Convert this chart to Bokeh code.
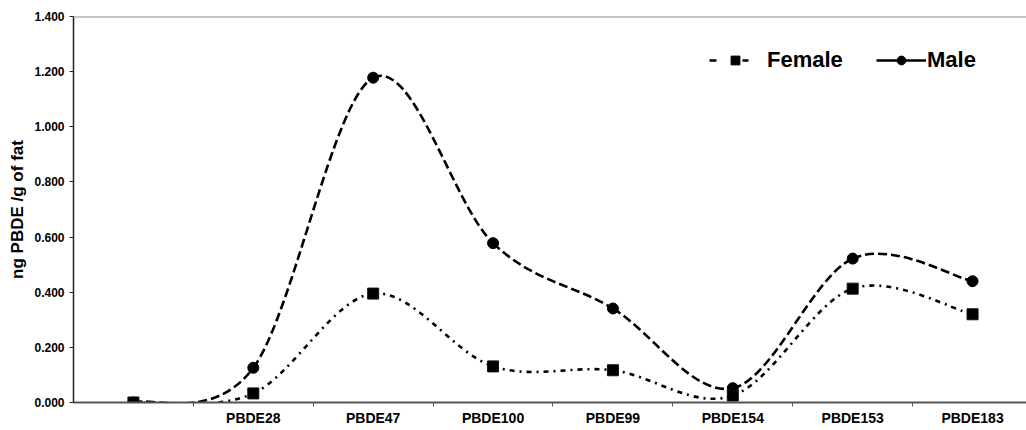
from bokeh.plotting import figure
from bokeh.models import (Range1d, FixedTicker, NumeralTickFormatter, Legend, LegendItem,
                          Span, Title, ColumnDataSource)
from bokeh.embed import file_html
from bokeh.resources import INLINE

categories = ["", "PBDE28", "PBDE47", "PBDE100", "PBDE99", "PBDE154", "PBDE153", "PBDE183"]
female = [0.000, 0.033, 0.395, 0.131, 0.117, 0.025, 0.413, 0.320]
male = [0.000, 0.126, 1.178, 0.578, 0.341, 0.052, 0.522, 0.440]

FONT = "Liberation Sans"
NAN = float("nan")

p = figure(width=1026, height=430, output_backend="svg", toolbar_location=None,
           x_range=Range1d(-0.5, 7.45), y_range=Range1d(0, 1.4),
           min_border_left=72, min_border_right=0, min_border_top=16, min_border_bottom=28)
p.outline_line_color = None
p.xgrid.visible = False
p.ygrid.visible = False
p.background_fill_color = "white"
p.border_fill_color = "white"

xs = list(range(len(categories)))


def smooth_segments(ys):
    n = len(ys)
    seg = dict(x0=[], y0=[], x1=[], y1=[], cx0=[], cy0=[], cx1=[], cy1=[])
    for i in range(n - 1):
        p0 = (xs[max(i - 1, 0)], ys[max(i - 1, 0)])
        p1 = (xs[i], ys[i])
        p2 = (xs[i + 1], ys[i + 1])
        p3 = (xs[min(i + 2, n - 1)], ys[min(i + 2, n - 1)])
        seg["x0"].append(p1[0]); seg["y0"].append(p1[1])
        seg["x1"].append(p2[0]); seg["y1"].append(p2[1])
        seg["cx0"].append(p1[0] + (p2[0] - p0[0]) / 6.0)
        seg["cy0"].append(p1[1] + (p2[1] - p0[1]) / 6.0)
        seg["cx1"].append(p2[0] - (p3[0] - p1[0]) / 6.0)
        seg["cy1"].append(p2[1] - (p3[1] - p1[1]) / 6.0)
    return ColumnDataSource(seg)


fsrc = smooth_segments(female)
msrc = smooth_segments(male)

p.bezier(x0="x0", y0="y0", x1="x1", y1="y1", cx0="cx0", cy0="cy0", cx1="cx1", cy1="cy1",
         source=fsrc, line_color="black", line_width=2.6, line_dash="5 5 2 5")
p.bezier(x0="x0", y0="y0", x1="x1", y1="y1", cx0="cx0", cy0="cy0", cx1="cx1", cy1="cy1",
         source=msrc, line_color="black", line_width=2.6, line_dash="9 4")

p.scatter(xs, male, marker="circle", size=11, fill_color="black", line_color="black")
p.scatter(xs, female, marker="square", size=11, fill_color="black", line_color="#111")

# top border line
p.add_layout(Span(location=1.4, dimension="width", line_color="#8c8c8c", line_width=2))

# axes
p.yaxis.ticker = FixedTicker(ticks=[0, 0.2, 0.4, 0.6, 0.8, 1.0, 1.2, 1.4])
p.yaxis.formatter = NumeralTickFormatter(format="0.000")
p.yaxis.major_label_text_font = FONT
p.yaxis.major_label_text_font_style = "bold"
p.yaxis.major_label_text_font_size = "12px"
p.yaxis.major_label_text_color = "black"
p.yaxis.major_tick_out = 4
p.yaxis.major_tick_in = 0
p.yaxis.minor_tick_line_color = None
p.yaxis.axis_line_color = "#222222"
p.yaxis.axis_line_width = 1.5
p.yaxis.major_tick_line_color = "#222222"
p.yaxis.major_label_standoff = 5

p.xaxis.ticker = FixedTicker(ticks=xs, minor_ticks=[i + 0.5 for i in xs])
p.xaxis.major_label_overrides = {i: c for i, c in enumerate(categories)}
p.xaxis.major_label_text_font = FONT
p.xaxis.major_label_text_font_style = "bold"
p.xaxis.major_label_text_font_size = "14px"
p.xaxis.major_label_text_color = "black"
p.xaxis.major_tick_line_color = None
p.xaxis.major_tick_out = 4
p.xaxis.minor_tick_out = 4
p.xaxis.minor_tick_in = 0
p.xaxis.minor_tick_line_color = "#555555"
p.xaxis.axis_line_color = "#555555"
p.xaxis.axis_line_width = 2
p.xaxis.major_label_standoff = 3

p.add_layout(Title(text="ng PBDE /g of fat", align="center",
                   text_font=FONT, text_font_style="bold", text_font_size="17px",
                   text_color="black"), "left")

# legend (two single-item legends to match spacing)
lf = p.line(x=[NAN, NAN], y=[NAN, NAN], line_color="black", line_width=2.6, line_dash="7 26 6 100")
sf = p.scatter(x=[NAN], y=[NAN], marker="square", size=11, fill_color="black", line_color="black")
lm = p.line(x=[NAN, NAN], y=[NAN, NAN], line_color="black", line_width=2.6)
sm = p.scatter(x=[NAN], y=[NAN], marker="circle", size=11, fill_color="black", line_color="black")

leg_f = Legend(items=[LegendItem(label="Female", renderers=[lf, sf])],
               location=(636, 329), label_standoff=6)
leg_m = Legend(items=[LegendItem(label="Male", renderers=[lm, sm])],
               location=(803, 329), label_standoff=1)
for lg, gw in ((leg_f, 52), (leg_m, 50)):
    lg.glyph_width = gw
    lg.glyph_height = 22
    lg.label_height = 22
    lg.padding = 0
    lg.margin = 0
    lg.border_line_color = None
    lg.background_fill_alpha = 0
    lg.label_text_font = FONT
    lg.label_text_font_style = "bold"
    lg.label_text_font_size = "22px"
    lg.label_text_color = "black"
    p.add_layout(lg)

open("out.html", "w").write(file_html(p, INLINE))
